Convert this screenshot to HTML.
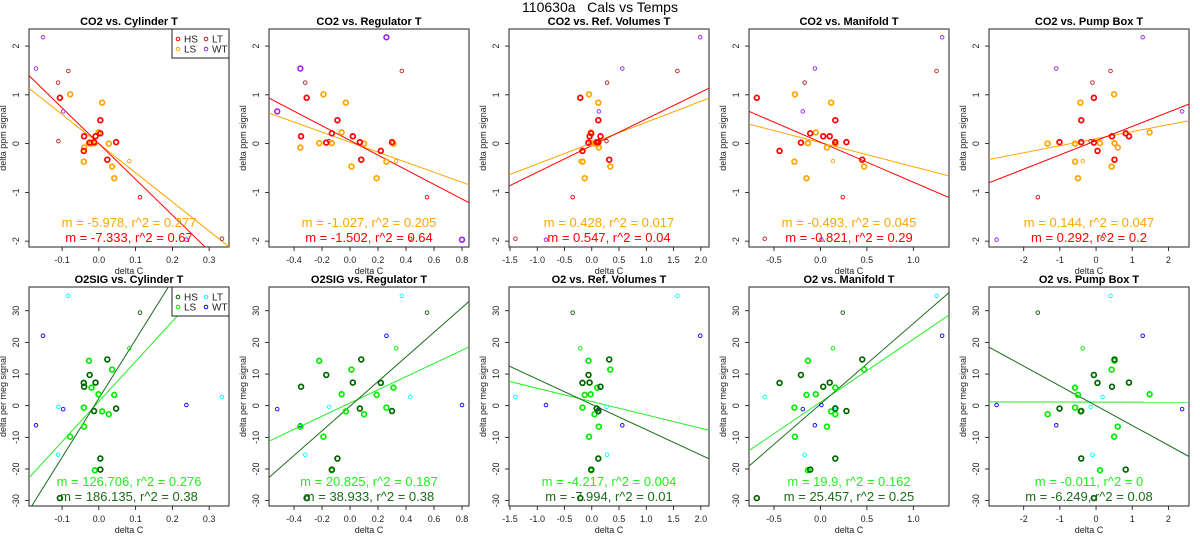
<!DOCTYPE html>
<html><head><meta charset="utf-8">
<style>
html,body{margin:0;padding:0;background:#fff;}
svg{display:block;font-family:"Liberation Sans",sans-serif;}
</style></head>
<body>
<svg id="chart" width="1200" height="550" viewBox="0 0 1200 550" xmlns="http://www.w3.org/2000/svg">
<text x="600" y="12" text-anchor="middle" font-size="14">110630a&#160;&#160;&#160;Cals vs Temps</text>
</svg>
<script>
// ---- data ----
const panelTemps = ["Cylinder T","Regulator T","Ref. Volumes T","Manifold T","Pump Box T"];
const topTitles = ["CO2 vs. Cylinder T","CO2 vs. Regulator T","CO2 vs. Ref. Volumes T","CO2 vs. Manifold T","CO2 vs. Pump Box T"];
const bottomTitles = ["O2SIG vs. Cylinder T","O2SIG vs. Regulator T","O2 vs. Ref. Volumes T","O2 vs. Manifold T","O2 vs. Pump Box T"];
const xRanges = [[-0.19,0.354],[-0.579,0.85],[-1.518,2.15],[-0.769,1.384],[-2.96,2.57]];
const xTicks = [[-0.1,0,0.1,0.2,0.3],[-0.4,-0.2,0,0.2,0.4,0.6,0.8],[-1.5,-1,-0.5,0,0.5,1,1.5,2],[-0.5,0,0.5,1],[-2,-1,0,1,2]];
const xTickDigits = [1,1,1,1,0];
const yRangeCO2 = [-2.12,2.35];
const yRangeO2 = [-31.7,37.5];
const yTicksCO2 = [-2,-1,0,1,2];
const yTicksO2 = [-30,-20,-10,0,10,20,30];

const hsCO2 = [0.94,0.48,0.21,0.15,0.15,0.03,0.03,0.02,-0.15,-0.33];
const hsO2 = [-29.2,-16.7,-20.2,6.0,7.3,-0.9,-1.7,9.7,7.2,14.6];
const hsX = [
 [-0.106,0.004,0.004,-0.04,-0.009,0.047,-0.013,-0.025,-0.041,0.023],
 [-0.31,-0.09,-0.13,-0.35,0.02,0.07,0.30,-0.17,0.22,0.08],
 [-0.21,0.12,-0.01,0.16,-0.04,0.09,0.12,-0.06,-0.17,0.32],
 [-0.685,0.16,-0.11,0.03,0.10,0.16,0.28,-0.21,-0.44,0.45],
 [-0.06,-0.41,0.82,0.44,0.91,-1.01,-0.41,-0.06,0.04,0.51]];
const lsCO2 = [1.01,0.84,0.23,0.01,0.01,0.0,0.0,-0.08,-0.37,-0.47,-0.71];
const lsO2 = [-9.8,-1.8,3.6,14.2,-20.4,-2.7,5.7,-6.6,-0.6,11.4,3.4];
const lsX = [
 [-0.078,0.009,-0.001,-0.027,-0.011,0.027,-0.02,-0.04,-0.041,0.036,0.042],
 [-0.19,-0.03,-0.06,-0.22,-0.13,0.10,0.31,-0.355,0.26,0.01,0.19],
 [-0.05,0.12,-0.02,-0.06,-0.01,0.05,0.10,0.13,-0.17,0.34,-0.13],
 [-0.275,0.115,-0.05,-0.135,-0.135,0.16,0.16,0.07,-0.28,0.47,-0.15],
 [0.5,-0.43,1.48,0.51,0.11,-1.34,-0.58,0.6,-0.58,0.43,-0.5]];
const hsThinCO2 = [-1.1];
const hsThinO2 = [29.4];
const hsThinX = [[0.112],[0.55],[-0.35],[0.24],[-1.61]];
const lsThinCO2 = [-0.36];
const lsThinO2 = [18.1];
const lsThinX = [[0.083],[0.33],[-0.21],[0.135],[-0.37]];
const ltCO2 = [1.49,1.25,0.05,-1.95];
const ltO2 = [34.7,-15.5,-0.4,2.8];
const ltX = [[-0.083,-0.111,-0.11,0.335],[0.37,-0.32,-0.15,0.43],[1.57,0.28,0.27,-1.4],[1.25,-0.17,0.16,-0.6],[0.4,-0.1,-0.15,0.18]];
const wtCO2 = [2.18,1.54,0.66,-1.97];
const wtO2 = [22.1,-6.2,-1.1,0.2];
const wtX = [[-0.152,-0.171,-0.097,0.238],[0.26,-0.355,-0.52,0.8],[1.99,0.56,0.13,-0.84],[1.31,-0.06,-0.19,0.01],[1.29,-1.1,2.38,-2.75]];

const co2HsSlope = [-7.333,-1.502,0.547,-0.821,0.292];
const co2HsIcpt = [0.0,0.065,-0.04,0.03,0.06];
const co2HsR2 = ["0.67","0.64","0.04","0.29","0.2"];
const co2LsSlope = [-5.978,-1.027,0.428,-0.493,0.144];
const co2LsIcpt = [0.0,0.03,0.01,0.02,0.1];
const co2LsR2 = ["0.277","0.205","0.017","0.045","0.047"];
const o2HsSlope = [186.135,38.933,-7.994,25.457,-6.249];
const o2HsIcpt = [2.3,-0.16,0.4,0.5,0.0];
const o2HsR2 = ["0.38","0.38","0.01","0.25","0.08"];
const o2LsSlope = [126.706,20.825,-4.217,19.9,-0.011];
const o2LsIcpt = [1.3,0.84,1.3,1.1,1.15];
const o2LsR2 = ["0.276","0.187","0.004","0.162","0"];

// ---- drawing ----
const NS = "http://www.w3.org/2000/svg";
const svg = document.getElementById("chart");
function mk(tag, attrs, parent){
  const e = document.createElementNS(NS, tag);
  for (const k in attrs) e.setAttribute(k, attrs[k]);
  (parent||svg).appendChild(e);
  return e;
}
function fmt(v,d){ return v.toFixed(d); }

function drawPanel(col, row){
  const L = 29 + 240*col, R = L + 200;
  const T = row===0 ? 29 : 287, B = row===0 ? 247 : 506;
  const xr = xRanges[col];
  const yr = row===0 ? yRangeCO2 : yRangeO2;
  const sx = v => L + (v - xr[0])/(xr[1]-xr[0])*(R-L);
  const sy = v => B - (v - yr[0])/(yr[1]-yr[0])*(B-T);
  const g = mk("g", {});
  
  
  const cid = "clip"+row+"_"+col;
  const cp = mk("clipPath", {id:cid}, g);
  mk("rect", {x:L, y:T, width:R-L, height:B-T}, cp);

  const t = mk("text", {x:(L+R)/2, y:T-4, "text-anchor":"middle", "font-size":"11", "font-weight":"bold"}, g);
  t.textContent = row===0 ? topTitles[col] : bottomTitles[col];
  
  

  const xa = mk("g", {}, g);
  
  
  const xt = xTicks[col];
  mk("line", {x1:sx(xt[0]), x2:sx(xt[xt.length-1]), y1:B, y2:B, stroke:"#000", "stroke-width":"0.8"}, xa);
  xt.forEach(v=>{
    mk("line", {x1:sx(v), x2:sx(v), y1:B, y2:B+4, stroke:"#000", "stroke-width":"0.8"}, xa);
    const tl = mk("text", {x:sx(v), y:B+16, "text-anchor":"middle", "font-size":"9", fill:"#222"}, xa);
    tl.textContent = fmt(v, xTickDigits[col]);
  });
  const xl = mk("text", {x:(L+R)/2, y:B+27, "text-anchor":"middle", "font-size":"9", fill:"#222"}, g);
  xl.textContent = "delta C";
  
  

  const ya = mk("g", {}, g);
  
  
  const yt = row===0 ? yTicksCO2 : yTicksO2;
  mk("line", {x1:L, x2:L, y1:sy(yt[0]), y2:sy(yt[yt.length-1]), stroke:"#000", "stroke-width":"0.8"}, ya);
  yt.forEach(v=>{
    mk("line", {x1:L-4, x2:L, y1:sy(v), y2:sy(v), stroke:"#000", "stroke-width":"0.8"}, ya);
    const yy = sy(v), xx = L-10;
    const tl = mk("text", {x:xx, y:yy, "text-anchor":"middle", "font-size":"9", fill:"#222", transform:`rotate(-90 ${xx} ${yy})`}, ya);
    tl.textContent = String(v);
  });
  const ylx = L-23, yly = (T+B)/2;
  const yl = mk("text", {x:ylx, y:yly, "text-anchor":"middle", "font-size":"9", fill:"#222", transform:`rotate(-90 ${ylx} ${yly})`}, g);
  yl.textContent = row===0 ? "delta ppm signal" : "delta per meg signal";
  
  

  mk("rect", {x:L, y:T, width:R-L, height:B-T, fill:"none", stroke:"#222", "stroke-width":"1"}, g);

  const cHS = row===0 ? "#ff0000" : "#006400";
  const cLS = row===0 ? "#ffa500" : "#00ee00";
  const cLT = row===0 ? "#b22222" : "#00ffff";
  const cWT = row===0 ? "#a020f0" : "#0000ff";

  const lines = row===0
    ? [[co2LsSlope[col], co2LsIcpt[col], cLS], [co2HsSlope[col], co2HsIcpt[col], cHS]]
    : [[o2LsSlope[col], o2LsIcpt[col], "#22ee22"], [o2HsSlope[col], o2HsIcpt[col], "#1a6b1a"]];
  lines.forEach((ln, i)=>{
    const m = ln[0], b = ln[1];
    const l = mk("line", {x1:sx(xr[0]), y1:sy(b + m*xr[0]), x2:sx(xr[1]), y2:sy(b + m*xr[1]), stroke:ln[2], "stroke-width":"1", "clip-path":`url(#${cid})`}, g);
    
    
  });

  function pts(xs, ys, color, r, w, name){
    const pg = mk("g", {}, g);
    
    
    xs.forEach((xv, i)=>{
      const c = mk("circle", {cx:sx(xv), cy:sy(ys[i]), r:r, fill:"none", stroke:color, "stroke-width":w}, pg);
      
      
    });
  }
  const wtThick = (row===0 && col===1);
  pts(ltX[col], row===0?ltCO2:ltO2, cLT, 1.8, 0.9, 'lt-series');
  pts(wtX[col], row===0?wtCO2:wtO2, cWT, wtThick?2.4:1.8, wtThick?1.6:0.9, 'wt-series');
  pts(hsThinX[col], row===0?hsThinCO2:hsThinO2, cHS, 1.8, 0.9, 'hs-thin-series');
  pts(lsThinX[col], row===0?lsThinCO2:lsThinO2, cLS, 1.8, 0.9, 'ls-thin-series');
  pts(lsX[col], row===0?lsCO2:lsO2, cLS, 2.4, 1.7, 'ls-series');
  pts(hsX[col], row===0?hsCO2:hsO2, cHS, 2.4, 1.7, 'hs-series');

  const a1 = mk("text", {x:(L+R)/2, y:B-20, "text-anchor":"middle", "font-size":"13", fill: row===0?cLS:"#22ee22"}, g);
  a1.textContent = row===0 ? `m = ${co2LsSlope[col]}, r^2 = ${co2LsR2[col]}` : `m = ${o2LsSlope[col]}, r^2 = ${o2LsR2[col]}`;
  
  
  const a2 = mk("text", {x:(L+R)/2, y:B-5, "text-anchor":"middle", "font-size":"13", fill: row===0?cHS:"#1a6b1a"}, g);
  a2.textContent = row===0 ? `m = ${co2HsSlope[col]}, r^2 = ${co2HsR2[col]}` : `m = ${o2HsSlope[col]}, r^2 = ${o2HsR2[col]}`;
  
  

  if (col===0){
    const lg = mk("g", {}, g);
    
    
    mk("rect", {x:R-57, y:T, width:57, height:29, fill:"#fff", stroke:"#222", "stroke-width":"1"}, lg);
    const ents = [["HS",cHS,R-51,T+10],["LT",cLT,R-23,T+10],["LS",cLS,R-51,T+20],["WT",cWT,R-23,T+20]];
    ents.forEach(e=>{
      const eg = mk("g", {}, lg);
      
      
      mk("circle", {cx:e[2], cy:e[3], r:1.8, fill:"none", stroke:e[1], "stroke-width":"1"}, eg);
      const tx = mk("text", {x:e[2]+6, y:e[3]+3.5, "font-size":"10", fill:"#222"}, eg);
      tx.textContent = e[0];
    });
  }
}
for (let r=0;r<2;r++) for (let c=0;c<5;c++) drawPanel(c,r);
</script>
</body></html>
